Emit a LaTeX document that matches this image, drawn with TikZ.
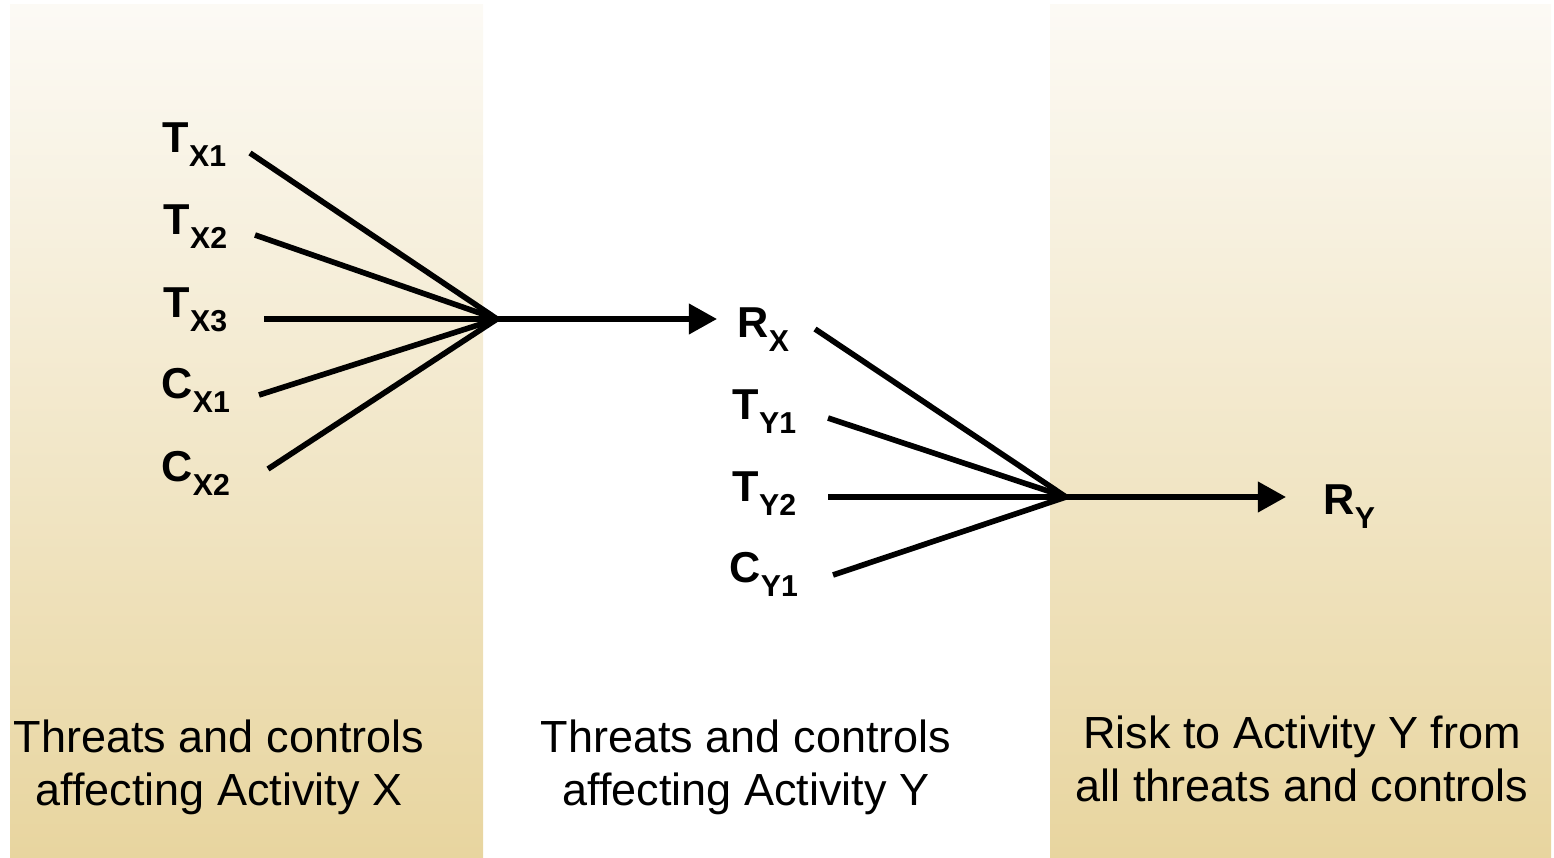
\documentclass[tikz,border=0pt]{standalone}
\usepackage{fontspec}
\setmainfont{Liberation Sans}
\usetikzlibrary{arrows.meta}

\definecolor{paneltop}{HTML}{FCFAF5}
\definecolor{panelbot}{HTML}{E8D59F}

% bold symbol with a bold, lowered subscript
\newcommand{\risklabel}[2]{\textbf{#1}\raisebox{-3.7pt}{\fontsize{8.6}{9}\selectfont\bfseries #2}}

\tikzset{
  panel/.style={top color=paneltop, bottom color=panelbot, draw=none},
  lbl/.style={inner sep=0pt, font=\fontsize{12.3}{14}\selectfont},
  caption/.style={inner sep=0pt, align=center, font=\fontsize{12.8}{15}\selectfont},
  link/.style={line width=1.6pt, line cap=butt},
  flow/.style={line width=1.6pt, -{Triangle[length=8pt,width=8.4pt]}}
}

\begin{document}
\begin{tikzpicture}[x=0.01cm, y=-0.01cm]
  \useasboundingbox (0,0) rectangle (1554,858);

  % shaded side panels
  \shade[panel] (10,5) rectangle (483,858);
  \shade[panel] (1050,5) rectangle (1551,858);

  % inputs for activity X
  \node[lbl, anchor=base west] (tx1) at (162,153) {\risklabel{T}{X1}};
  \node[lbl, anchor=base west] (tx2) at (163,235) {\risklabel{T}{X2}};
  \node[lbl, anchor=base west] (tx3) at (163,318) {\risklabel{T}{X3}};
  \node[lbl, anchor=base west] (cx1) at (161,399) {\risklabel{C}{X1}};
  \node[lbl, anchor=base west] (cx2) at (161,482) {\risklabel{C}{X2}};

  \coordinate (tx1s) at (250,153);
  \coordinate (tx2s) at (255,235);
  \coordinate (tx3s) at (264,319);
  \coordinate (cx1s) at (259,395);
  \coordinate (cx2s) at (268,469);
  \coordinate (hubx) at (497,319);
  \coordinate (rxin) at (717,319);

  \foreach \s in {tx1s,tx2s,tx3s,cx1s,cx2s}
    \draw[link] (\s) -- (hubx);
  \draw[flow] (hubx) -- (rxin);

  % inputs for activity Y
  \node[lbl, anchor=base west] (rx)  at (737,338) {\risklabel{R}{X}};
  \node[lbl, anchor=base west] (ty1) at (732,420) {\risklabel{T}{Y1}};
  \node[lbl, anchor=base west] (ty2) at (732,502) {\risklabel{T}{Y2}};
  \node[lbl, anchor=base west] (cy1) at (729,583) {\risklabel{C}{Y1}};

  \coordinate (rxs)  at (815,329);
  \coordinate (ty1s) at (828,418);
  \coordinate (ty2s) at (828,497);
  \coordinate (cy1s) at (833,575);
  \coordinate (huby) at (1066,497);
  \coordinate (ryin) at (1286,497);

  \foreach \s in {rxs,ty1s,ty2s,cy1s}
    \draw[link] (\s) -- (huby);
  \draw[flow] (huby) -- (ryin);

  % resulting risk
  \node[lbl, anchor=base west] (ry) at (1323,515) {\risklabel{R}{Y}};

  % column captions (anchored on the baseline of the second line)
  \node[caption, anchor=base] (capx) at (219,805)
    {Threats and controls\\affecting Activity X};
  \node[caption, anchor=base] (capy) at (746,805)
    {Threats and controls\\affecting Activity Y};
  \node[caption, anchor=base] (capr) at (1302,801)
    {Risk to Activity Y from\\all threats and controls};
\end{tikzpicture}
\end{document}
